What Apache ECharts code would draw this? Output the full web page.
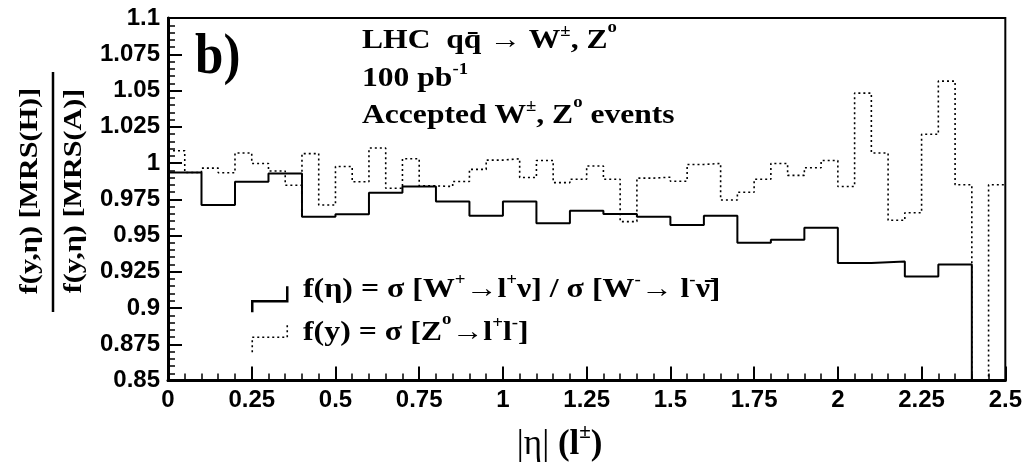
<!DOCTYPE html>
<html>
<head>
<meta charset="utf-8">
<title>MRS(H) / MRS(A) ratio vs |eta|</title>
<script src="https://cdn.jsdelivr.net/npm/echarts@6/dist/echarts.min.js"></script>
<style>
  html, body { margin: 0; padding: 0; background: #fff; }
  #chart { width: 1025px; height: 467px; }
</style>
</head>
<body>
<div id="chart"></div>
<script>
// ratio f(y,eta)[MRS(H)] / f(y,eta)[MRS(A)]
const wBinWidth = 0.1;   // W+/W- lepton |eta| bins
const zBinWidth = 0.05;  // Z rapidity bins

// last W bin (2.4-2.5) and Z bin 2.40-2.45 fall below the frame
const wRatio = [
  0.9935, 0.971, 0.987, 0.9927, 0.963, 0.9646, 0.9795, 0.9838, 0.9734, 0.9637,
  0.9734, 0.9585, 0.967, 0.9648, 0.963, 0.9573, 0.9637, 0.945, 0.9471, 0.9553,
  0.931, 0.932, 0.9218, 0.930, 0.80
];
const zRatio = [
  1.0085, 0.9935, 0.9965, 0.9933, 1.0069, 0.9997, 0.9945, 0.9847, 1.0065, 0.971,
  0.9976, 0.9871, 1.0103, 0.9826, 1.0029, 0.9842, 0.9838, 0.9872, 0.9956, 1.002,
  1.0029, 0.990, 1.0017, 0.9865, 0.9888, 0.9979, 0.9888, 0.9596, 0.9896, 0.9902,
  0.9874, 0.999, 0.9997, 0.9745, 0.9798, 0.9888, 0.9997, 0.9915, 0.9967, 1.0017,
  0.9838, 1.0482, 1.0069, 0.9605, 0.9657, 1.0198, 1.0565, 0.985, 0.80, 0.985
];

const seriesLabels = {
  W: 'f(η) = σ [W{s|+}→l{s|+}ν] / σ [W{s|-}→ l{s|-}ν\u0304]',
  Z: 'f(y) = σ [Z{o|o}→l{s|+}l{s|-}]'
};

const serif = 'Liberation Serif';
const sans = 'Liberation Sans';

// histogram -> points at bin edges, drawn with step:'end'
function histPoints(values, width) {
  const pts = values.map((v, i) => [+(i * width).toFixed(3), v]);
  pts.push([+(values.length * width).toFixed(3), values[values.length - 1]]);
  return pts;
}

// s = superscript, o = raised small "o" (degree-like)
function supRich(size) {
  const sup = Math.round(size * 0.6);
  return {
    m: { fontFamily: serif, fontWeight: 'bold', fontSize: size, color: '#000' },
    r: { fontFamily: serif, fontWeight: 'normal', fontSize: size, color: '#000' },
    s: { fontFamily: serif, fontWeight: 'bold', fontSize: sup, color: '#000', padding: [0, 0, Math.round(sup * 1.1), 0] },
    o: { fontFamily: serif, fontWeight: 'bold', fontSize: sup, color: '#000', padding: [0, 0, Math.round(sup * 1.6), 0] }
  };
}

function serifText(x, y, text, size, scaleX, opts) {
  opts = opts || {};
  const align = opts.align || 'left';
  return {
    type: 'text', x, y, scaleX, rotation: opts.rotation || 0,
    style: {
      text, fill: '#000', fontFamily: serif, fontWeight: 'bold', fontSize: size,
      align, textAlign: align, verticalAlign: 'middle', textVerticalAlign: 'middle',
      rich: supRich(size)
    }
  };
}

const chart = echarts.init(document.getElementById('chart'));
chart.setOption({
  animation: false,
  backgroundColor: '#fff',
  grid: {
    left: 168, right: 15, top: 18, bottom: 81,
    show: true, borderColor: '#000', borderWidth: 2, backgroundColor: 'transparent'
  },
  xAxis: {
    type: 'value', min: 0, max: 2.5, interval: 0.25,
    name: '{r||η|} {m|(l}{s|±}{m|)}',
    nameLocation: 'middle', nameGap: 42,
    nameTextStyle: {
      fontFamily: serif, fontSize: 35, color: '#000', padding: [0, 54, 0, 0],
      rich: supRich(35)
    },
    axisLine: { onZero: false, lineStyle: { color: '#000', width: 3 } },
    axisTick: { inside: true, length: 14, lineStyle: { color: '#000', width: 2 } },
    minorTick: { show: true, splitNumber: 5, length: 7, lineStyle: { color: '#000', width: 1.5 } },
    splitLine: { show: false },
    axisLabel: { color: '#000', fontFamily: sans, fontWeight: 'bold', fontSize: 24, margin: 8 }
  },
  yAxis: {
    type: 'value', min: 0.85, max: 1.1, interval: 0.025,
    axisLine: { show: true, onZero: false, lineStyle: { color: '#000', width: 3 } },
    axisTick: { show: true, inside: true, length: 14, lineStyle: { color: '#000', width: 2 } },
    minorTick: { show: true, splitNumber: 5, length: 7, lineStyle: { color: '#000', width: 1.5 } },
    splitLine: { show: false },
    axisLabel: { color: '#000', fontFamily: sans, fontWeight: 'bold', fontSize: 24, margin: 8 }
  },
  // legend draws the two step icons; the stretched labels are graphic text below
  legend: {
    orient: 'vertical', left: 251, top: 285, padding: 0,
    itemWidth: 35, itemHeight: 27, itemGap: 11, selectedMode: false,
    data: [
      { name: 'W', icon: 'path://M0,26L0,15L35,15L35,0',
        itemStyle: { color: 'rgba(0,0,0,0)', borderColor: '#000', borderWidth: 2.5 } },
      { name: 'Z', icon: 'path://M0,27L0,12L35,12L35,0',
        itemStyle: { color: 'rgba(0,0,0,0)', borderColor: '#000', borderWidth: 1.6, borderType: [2, 3] } }
    ],
    formatter: () => '',
    textStyle: { fontSize: 1, padding: 0 }
  },
  graphic: [
    serifText(195, 58, 'b)', 58, 0.88),
    serifText(362, 41, 'LHC  qq\u0304 → W{s|±}, Z{o|o}', 27, 1.17),
    serifText(362, 79, '100 pb{s|-1}', 27, 1.17),
    serifText(362, 116, 'Accepted W{s|±}, Z{o|o} events', 27, 1.17),
    serifText(303, 290, seriesLabels.W, 27, 1.18),
    serifText(303, 333, seriesLabels.Z, 27, 1.18),
    serifText(30, 191, 'f(y,η) [MRS(H)]', 26, 1.16, { rotation: Math.PI / 2, align: 'center' }),
    serifText(74, 191, 'f(y,η) [MRS(A)]', 26, 1.16, { rotation: Math.PI / 2, align: 'center' }),
    { type: 'line', shape: { x1: 53, y1: 72, x2: 53, y2: 312 }, style: { stroke: '#000', lineWidth: 2.5 } }
  ],
  series: [
    {
      name: 'W', type: 'line', step: 'end', showSymbol: false, clip: true, z: 3,
      data: histPoints(wRatio, wBinWidth),
      lineStyle: { color: '#000', width: 2 },
      itemStyle: { color: '#000' }
    },
    {
      name: 'Z', type: 'line', step: 'end', showSymbol: false, clip: true, z: 2,
      data: histPoints(zRatio, zBinWidth),
      lineStyle: { color: '#000', width: 1.6, type: [2, 3] },
      itemStyle: { color: '#000' }
    }
  ]
});
</script>
</body>
</html>
